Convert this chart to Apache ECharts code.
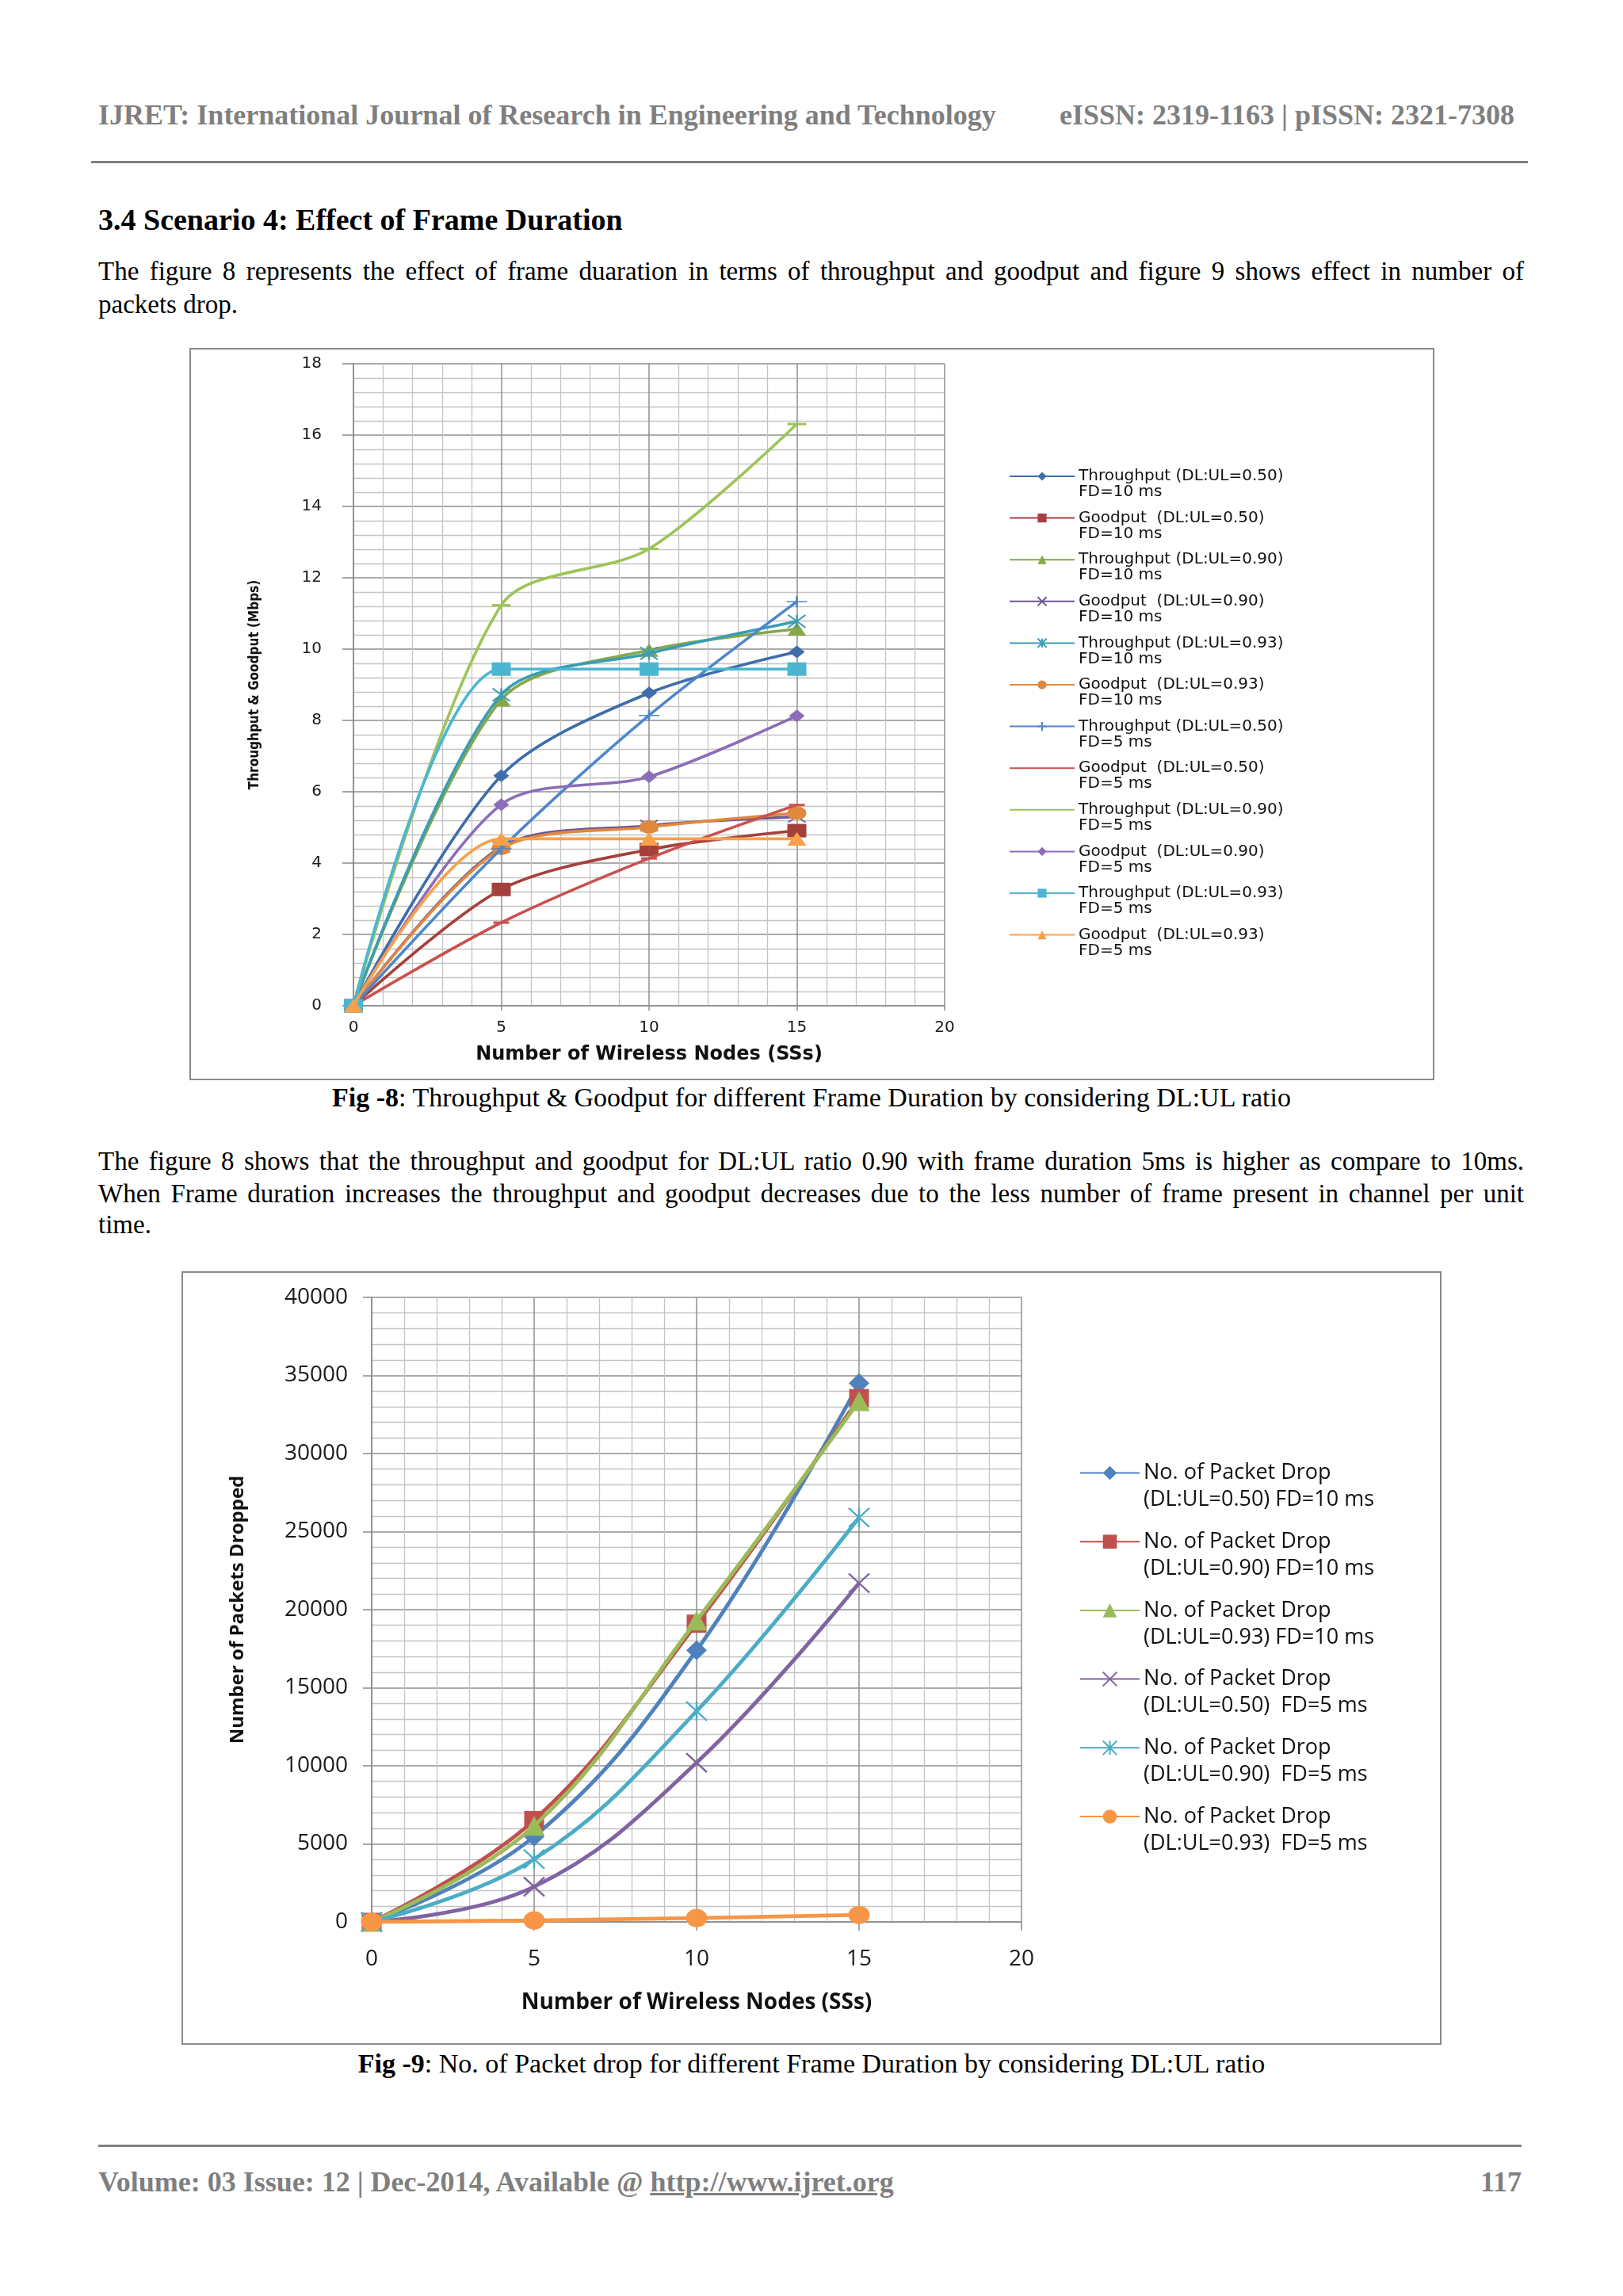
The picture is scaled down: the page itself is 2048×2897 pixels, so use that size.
<!DOCTYPE html>
<html>
<head>
<meta charset="utf-8">
<script src="https://cdn.jsdelivr.net/npm/echarts@6/dist/echarts.min.js"></script>
<style>
html,body{margin:0;padding:0;background:#fff;}
body{width:2048px;height:2897px;position:relative;overflow:hidden;font-family:"Liberation Serif","Times New Roman",serif;color:#000;}
.t{position:absolute;white-space:nowrap;}
.gray{color:#7f7f7f;font-weight:bold;font-size:36px;line-height:40px;}
.rule{position:absolute;background:#808080;}
.para{position:absolute;left:124px;width:1799px;font-size:33px;line-height:42px;}
.jl{text-align:justify;text-align-last:justify;}
.cap{position:absolute;left:0;width:2048px;text-align:center;font-size:34px;line-height:40px;white-space:nowrap;}
.chart{position:absolute;outline:2px solid #8a8a8a;outline-offset:-2px;background:#fff;}
</style>
</head>
<body>
<div class="t gray" style="left:124px;top:125px;">IJRET: International Journal of Research in Engineering and Technology</div>
<div class="t gray" style="right:137px;top:125px;">eISSN: 2319-1163 | pISSN: 2321-7308</div>
<div class="rule" style="left:115px;top:203px;width:1813px;height:3px;"></div>

<div class="t" style="left:124px;top:257px;font-size:38px;line-height:40px;font-weight:bold;">3.4 Scenario 4: Effect of Frame Duration</div>
<div class="para jl" style="top:321px;">The figure 8 represents the effect of frame duaration in terms of throughput and goodput and figure 9 shows effect in number of</div>
<div class="para" style="top:363px;">packets drop.</div>

<div id="fig8" class="chart" style="left:239px;top:439px;width:1571px;height:924px;"></div>
<div class="cap" style="top:1365px;"><b>Fig -8</b>: Throughput &amp; Goodput for different Frame Duration by considering DL:UL ratio</div>

<div class="para jl" style="top:1445px;line-height:40px;">The figure 8 shows that the throughput and goodput for DL:UL ratio 0.90 with frame duration 5ms is higher as compare to 10ms.</div>
<div class="para jl" style="top:1486px;line-height:40px;">When Frame duration increases the throughput and goodput decreases due to the less number of frame present in channel per unit</div>
<div class="para" style="top:1525px;line-height:40px;">time.</div>

<div id="fig9" class="chart" style="left:229px;top:1604px;width:1590px;height:976px;"></div>
<div class="cap" style="top:2584px;"><b>Fig -9</b>: No. of Packet drop for different Frame Duration by considering DL:UL ratio</div>

<div class="rule" style="left:124px;top:2706px;width:1796px;height:3px;"></div>
<div class="t gray" style="left:124px;top:2733px;">Volume: 03 Issue: 12 | Dec-2014, Available @ <span style="text-decoration:underline;">http://www.ijret.org</span></div>
<div class="t gray" style="right:128px;top:2733px;">117</div>

<script>
// ---------- DATA ----------
const nodes = [0, 5, 10, 15];

// Fig 8: throughput / goodput (Mbps)
const tp050fd10 = [0, 6.45, 8.77, 9.92];
const gp050fd10 = [0, 3.26, 4.38, 4.91];
const tp090fd10 = [0, 8.58, 9.97, 10.56];
const gp090fd10 = [0, 4.45, 5.05, 5.30];
const tp093fd10 = [0, 8.72, 9.88, 10.78];
const gp093fd10 = [0, 4.41, 5.01, 5.40];
const tp050fd5  = [0, 4.40, 8.14, 11.33];
const gp050fd5  = [0, 2.33, 4.13, 5.63];
const tp090fd5  = [0, 11.23, 12.81, 16.31];
const gp090fd5  = [0, 5.64, 6.42, 8.13];
const tp093fd5  = [0, 9.44, 9.44, 9.44];
const gp093fd5  = [0, 4.68, 4.68, 4.68];

const fig8Names = [
  'Throughput (DL:UL=0.50)\nFD=10 ms',
  'Goodput  (DL:UL=0.50)\nFD=10 ms',
  'Throughput (DL:UL=0.90)\nFD=10 ms',
  'Goodput  (DL:UL=0.90)\nFD=10 ms',
  'Throughput (DL:UL=0.93)\nFD=10 ms',
  'Goodput  (DL:UL=0.93)\nFD=10 ms',
  'Throughput (DL:UL=0.50)\nFD=5 ms',
  'Goodput  (DL:UL=0.50)\nFD=5 ms',
  'Throughput (DL:UL=0.90)\nFD=5 ms',
  'Goodput  (DL:UL=0.90)\nFD=5 ms',
  'Throughput (DL:UL=0.93)\nFD=5 ms',
  'Goodput  (DL:UL=0.93)\nFD=5 ms'
];
const fig8Values = [tp050fd10, gp050fd10, tp090fd10, gp090fd10, tp093fd10, gp093fd10,
                    tp050fd5, gp050fd5, tp090fd5, gp090fd5, tp093fd5, gp093fd5];

// Fig 9: number of packets dropped
const pd050fd10 = [0, 5470, 17400, 34500];
const pd090fd10 = [0, 6520, 19100, 33550];
const pd093fd10 = [0, 6150, 19300, 33350];
const pd050fd5  = [0, 2250, 10200, 21700];
const pd090fd5  = [0, 4020, 13500, 25900];
const pd093fd5  = [0, 100, 250, 450];

const fig9Names = [
  'No. of Packet Drop\n(DL:UL=0.50) FD=10 ms',
  'No. of Packet Drop\n(DL:UL=0.90) FD=10 ms',
  'No. of Packet Drop\n(DL:UL=0.93) FD=10 ms',
  'No. of Packet Drop\n(DL:UL=0.50)  FD=5 ms',
  'No. of Packet Drop\n(DL:UL=0.90)  FD=5 ms',
  'No. of Packet Drop\n(DL:UL=0.93)  FD=5 ms'
];
const fig9Values = [pd050fd10, pd090fd10, pd093fd10, pd050fd5, pd090fd5, pd093fd5];

// ---------- STYLES ----------
const SYM = {
  cross: 'path://M0,0L10,10M10,0L0,10',
  star: 'path://M0,0L10,10M10,0L0,10M5,0L5,10',
  plus: 'path://M5,0L5,10M0,5L10,5',
  ellipse: 'path://M0,5A5,5 0 1 1 10,5A5,5 0 1 1 0,5Z'
};
const fig8Style = [
  {c: '#3E6DAA', s: 'diamond', z: [20, 16]},
  {c: '#A5403D', s: 'rect', z: [24, 17]},
  {c: '#86A74A', s: 'triangle', z: [24, 17]},
  {c: '#6E5896', s: SYM.cross, z: [22, 14], stroke: true},
  {c: '#3A9DB5', s: SYM.star, z: [22, 16], stroke: true},
  {c: '#E0883C', s: SYM.ellipse, z: [24, 17]},
  {c: '#4F86CC', s: SYM.plus, z: [26, 14], stroke: true},
  {c: '#C9514E', s: 'rect', z: [20, 3], hideLegendSym: true},
  {c: '#9DC35A', s: 'rect', z: [24, 3], hideLegendSym: true},
  {c: '#8B6DB8', s: 'diamond', z: [20, 16]},
  {c: '#4CB5D2', s: 'rect', z: [24, 17]},
  {c: '#F9A149', s: 'triangle', z: [24, 17]}
];
const fig9Style = [
  {c: '#4F81BD', s: 'diamond', z: [26, 25]},
  {c: '#C0504D', s: 'rect', z: [25, 23]},
  {c: '#9BBB59', s: 'triangle', z: [27, 25]},
  {c: '#8064A2', s: SYM.cross, z: [26, 24], stroke: true},
  {c: '#4BACC6', s: SYM.star, z: [26, 24], stroke: true},
  {c: '#F79646', s: SYM.ellipse, z: [27, 23]}
];

function buildSeries(names, values, styles, lineW, strokeW, smooth) {
  return names.map((n, i) => {
    const st = styles[i];
    return {
      type: 'line', name: n,
      data: nodes.map((x, k) => [x, values[i][k]]),
      smooth: smooth,
      symbol: st.s, symbolSize: st.z, showSymbol: true,
      lineStyle: {color: st.c, width: lineW},
      itemStyle: st.stroke ? {color: st.c, borderColor: st.c, borderWidth: strokeW}
                           : {color: st.c, borderWidth: 0},
      emphasis: {disabled: true},
      z: 2 + i
    };
  });
}
function legendData(names, styles) {
  return names.map((n, i) => styles[i].hideLegendSym ? {name: n, itemStyle: {opacity: 0}} : {name: n});
}
function richFormatter(name) {
  return name.split('\n').map(s => '{a|' + s + '}').join('\n');
}
function axis(o) {
  return {
    type: 'value', min: o.min, max: o.max, interval: o.interval,
    axisLine: {show: true, onZero: false, lineStyle: {color: '#8a8a8a', width: 1.5}},
    axisTick: {show: true, length: o.tick, lineStyle: {color: '#8a8a8a', width: 1.5}},
    axisLabel: {margin: o.margin, fontSize: o.fs, color: '#1a1a1a', fontFamily: o.ff,
                formatter: v => String(v)},
    splitLine: {show: true, lineStyle: {color: '#8f8f8f', width: 1.5}},
    minorTick: {show: false, splitNumber: 5},
    minorSplitLine: {show: true, lineStyle: {color: '#c4c4c4', width: 1.3}},
    name: o.name, nameLocation: 'middle', nameGap: o.nameGap, nameMoveOverlap: false,
    nameTextStyle: {fontSize: o.nfs, fontWeight: 'bold', color: '#111', fontFamily: o.nff}
  };
}

// ---------- FIG 8 ----------
const chart8 = echarts.init(document.getElementById('fig8'));
chart8.setOption({
  animation: false,
  grid: {left: 207, top: 20, width: 746, height: 810, containLabel: false, outerBoundsMode: 'none'},
  xAxis: axis({min: 0, max: 20, interval: 5, tick: 6, margin: 18, fs: 20, ff: 'DejaVu Sans',
               name: 'Number of Wireless Nodes (SSs)', nameGap: 50, nfs: 24, nff: 'DejaVu Sans'}),
  yAxis: axis({min: 0, max: 18, interval: 2, tick: 14, margin: 40, fs: 20, ff: 'DejaVu Sans',
               name: 'Throughput & Goodput (Mbps)', nameGap: 116, nfs: 17, nff: 'DejaVu Sans Condensed'}),
  legend: {
    orient: 'vertical', left: 1034, top: 152, padding: 0, itemGap: 12.6,
    itemWidth: 82, itemHeight: 14, selectedMode: false,
    formatter: richFormatter,
    textStyle: {padding: [20, 0, 0, 0],
      rich: {a: {fontSize: 20, lineHeight: 20, fontFamily: 'DejaVu Sans', color: '#111'}}},
    data: legendData(fig8Names, fig8Style)
  },
  series: buildSeries(fig8Names, fig8Values, fig8Style, 3.6, 2, 0.3)
});

// ---------- FIG 9 ----------
const chart9 = echarts.init(document.getElementById('fig9'));
chart9.setOption({
  animation: false,
  grid: {left: 240, top: 33, width: 820, height: 788, containLabel: false, outerBoundsMode: 'none'},
  xAxis: axis({min: 0, max: 20, interval: 5, tick: 11, margin: 33, fs: 28, ff: 'Open Sans',
               name: 'Number of Wireless Nodes (SSs)', nameGap: 88, nfs: 28, nff: 'Open Sans'}),
  yAxis: axis({min: 0, max: 40000, interval: 5000, tick: 11, margin: 30, fs: 28, ff: 'Open Sans',
               name: 'Number of Packets Dropped', nameGap: 157, nfs: 24, nff: 'Open Sans'}),
  legend: {
    orient: 'vertical', left: 1133, top: 241, padding: 0, itemGap: 25.7,
    itemWidth: 75, itemHeight: 22, selectedMode: false,
    formatter: richFormatter,
    textStyle: {padding: [34, 0, 0, 0],
      rich: {a: {fontSize: 27, lineHeight: 34, fontFamily: 'Open Sans', color: '#111'}}},
    data: legendData(fig9Names, fig9Style)
  },
  series: buildSeries(fig9Names, fig9Values, fig9Style, 4.8, 2.4, 0.4)
});
</script>
</body>
</html>
